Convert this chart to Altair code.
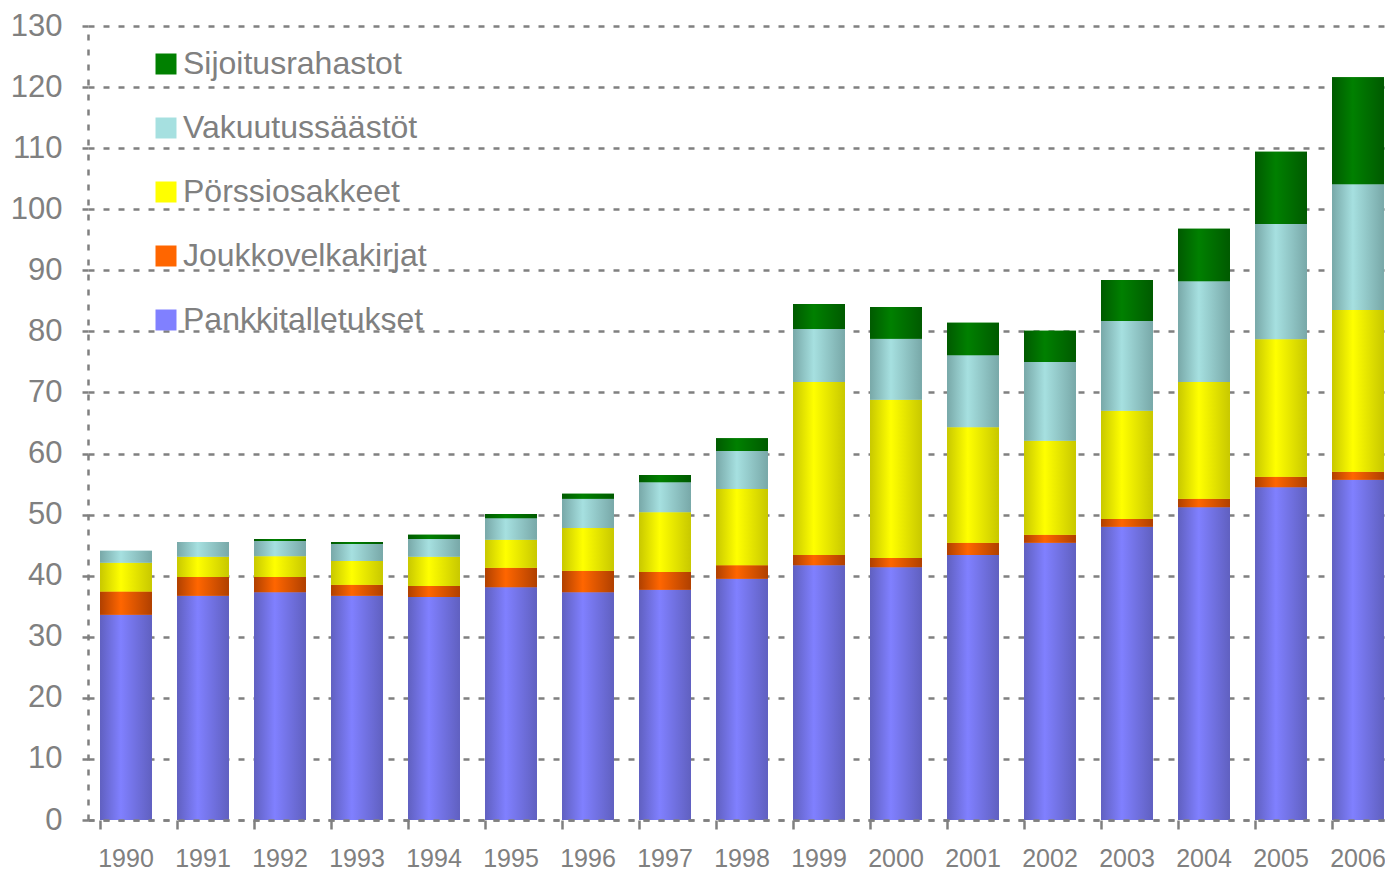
import altair as alt
import pandas as pd

years = [str(y) for y in range(1990, 2007)]
series = ["Pankkitalletukset", "Joukkovelkakirjat", "Pörssiosakkeet", "Vakuutussäästöt", "Sijoitusrahastot"]

pankki = [33.6, 36.7, 37.3, 36.7, 36.5, 38.1, 37.3, 37.7, 39.5, 41.7, 41.4, 43.4, 45.4, 48.0, 51.2, 54.5, 55.7]
joukko = [3.8, 3.1, 2.5, 1.8, 1.8, 3.2, 3.5, 2.9, 2.2, 1.7, 1.5, 2.0, 1.3, 1.3, 1.4, 1.7, 1.3]
porssi = [4.7, 3.3, 3.4, 3.9, 4.8, 4.6, 7.0, 9.8, 12.5, 28.3, 25.9, 18.9, 15.4, 17.7, 19.1, 22.5, 26.5]
vakuutus = [2.0, 2.4, 2.5, 2.8, 2.9, 3.5, 4.8, 4.9, 6.2, 8.7, 10.0, 11.8, 12.9, 14.7, 16.5, 18.9, 20.6]
sijoitus = [0.0, 0.0, 0.3, 0.3, 0.7, 0.7, 0.8, 1.2, 2.1, 4.1, 5.2, 5.3, 5.1, 6.7, 8.6, 11.8, 17.5]

light = ["#8080FF", "#FF6600", "#FFFF00", "#A6E0E0", "#008000"]
dark = ["#6060C0", "#B04000", "#C8C800", "#78A8A8", "#005A00"]

values = [pankki, joukko, porssi, vakuutus, sijoitus]
rows = []
for si, (name, vals) in enumerate(zip(series, values)):
    for y, v in zip(years, vals):
        rows.append({"year": y, "series": name, "value": v, "order": si})
df = pd.DataFrame(rows)

legend_order = list(reversed(series))
legend_colors = list(reversed(light))

FONT = "Liberation Sans"
GRAY = "#808080"

x_enc = alt.X(
    "year:O",
    title=None,
    scale=alt.Scale(paddingInner=0.325, paddingOuter=0.156, range=[0, 1308]),
    axis=alt.Axis(
        labelAngle=0, labelFontSize=25, labelColor=GRAY, labelFont=FONT,
        labelBaseline="alphabetic", labelPadding=37, tickSize=9,
        tickColor=GRAY, tickWidth=2.5,
        bandPosition=0, domain=True, domainColor=GRAY, domainWidth=2.5,
        domainDash=[6, 9], zindex=1,
    ),
)
y_enc = alt.Y(
    "y0:Q",
    title=None,
    scale=alt.Scale(domain=[0, 130], nice=False),
    axis=alt.Axis(
        values=list(range(0, 131, 10)), labelFontSize=31, labelColor=GRAY,
        labelFont=FONT, labelPadding=14, tickSize=12, tickColor=GRAY,
        tickWidth=2.5, tickDash=[6, 6], grid=True, gridColor=GRAY,
        gridWidth=2.5, gridDash=[6, 9], domain=True, domainColor=GRAY,
        domainWidth=2.5, domainDash=[6, 9],
    ),
)

base = alt.Chart(df).transform_stack(
    stack="value", groupby=["year"], as_=["y0", "y1"],
    sort=[alt.SortField("order", order="ascending")],
)

flat = base.mark_bar(strokeWidth=0).encode(
    x=x_enc,
    y=y_enc,
    y2="y1:Q",
    color=alt.Color(
        "series:N",
        scale=alt.Scale(domain=legend_order, range=legend_colors),
        legend=alt.Legend(
            title=None, orient="none", legendX=62, legendY=22,
            symbolType="square", symbolSize=441, symbolStrokeWidth=0,
            labelFontSize=32, labelColor=GRAY, labelFont=FONT,
            labelOffset=1, labelLimit=500, rowPadding=32, padding=0,
        ),
    ),
)

layers = [flat]
for name, lc, dc in zip(series, light, dark):
    grad = alt.Gradient(
        gradient="linear", x1=0, y1=0, x2=1, y2=0,
        stops=[
            alt.GradientStop(offset=0, color=dc),
            alt.GradientStop(offset=0.4, color=lc),
            alt.GradientStop(offset=1, color=dc),
        ],
    )
    layers.append(
        base.transform_filter(alt.datum.series == name)
        .mark_bar(color=grad, strokeWidth=0)
        .encode(x=alt.X("year:O"), y=alt.Y("y0:Q"), y2="y1:Q")
    )

chart = alt.layer(*layers).properties(
    width=1297, height=794,
    autosize=alt.AutoSizeParams(type="none"),
    padding={"left": 80, "top": 18, "right": 0, "bottom": 52},
).configure_view(stroke=None)

chart.save("out.html", embed_options={"renderer": "svg", "actions": False})
